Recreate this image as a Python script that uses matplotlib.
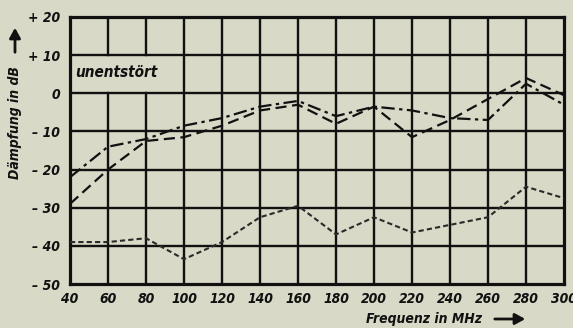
import matplotlib
matplotlib.use("Agg")
import matplotlib.pyplot as plt

# Frequency axis (MHz) and attenuation curves (dB)
freq = [40, 60, 80, 100, 120, 140, 160, 180, 200, 220, 240, 260, 280, 300]
curve_dashdot = [-22, -14, -12, -8.5, -6.5, -3.5, -2, -6, -3.5, -4.5, -6.5, -7, 2.5, -3]
curve_dashed = [-29, -20, -12.5, -11.5, -8.5, -4.5, -3, -8, -3.5, -11.5, -7, -1.5, 4, -0.5]
curve_lower = [-39, -39, -38, -43.5, -39, -32.5, -29.5, -37, -32.5, -36.5, -34.5, -32.5, -24.5, -27.5]

x_ticks = [40, 60, 80, 100, 120, 140, 160, 180, 200, 220, 240, 260, 280, 300]
y_ticks = [20, 10, 0, -10, -20, -30, -40, -50]
y_tick_labels = ["+ 20", "+ 10", "0", "– 10", "– 20", "– 30", "– 40", "– 50"]

paper = "#d8d9c6"
ink = "#111111"
font = {"family": ["DejaVu Sans Condensed", "DejaVu Sans"], "stretch": "condensed",
        "weight": "bold", "style": "italic"}

fig = plt.figure(figsize=(5.73, 3.28), dpi=100, facecolor=paper)
ax = fig.add_axes([70 / 573, 1 - 284 / 328, 494 / 573, 267 / 328])
ax.set_facecolor(paper)
ax.set_xlim(40, 300)
ax.set_ylim(-50, 20)

# grid, with the cell behind the label left open
for xv in x_ticks[1:-1]:
    if xv in (60, 80):
        ax.axvline(xv, ymin=0, ymax=50 / 70, color=ink, lw=1.7, zorder=1)
        ax.axvline(xv, ymin=60 / 70, ymax=1, color=ink, lw=1.7, zorder=1)
    else:
        ax.axvline(xv, color=ink, lw=1.7, zorder=1)
for yv in y_ticks[1:-1]:
    ax.axhline(yv, color=ink, lw=1.7, zorder=1)

for s in ax.spines.values():
    s.set_linewidth(2.3)
    s.set_color(ink)

ax.plot(freq, curve_dashdot, color=ink, lw=1.6, ls=(0, (6, 2, 1.5, 2)), zorder=3)
ax.plot(freq, curve_dashed, color=ink, lw=1.6, ls=(0, (5, 2.5)), zorder=3)
ax.plot(freq, curve_lower, color="#2a2a2a", lw=1.5, ls=(0, (2.5, 1.5)), zorder=3)

ax.set_xticks(x_ticks)
ax.set_xticklabels([str(v) for v in x_ticks], fontdict=dict(font, size=10))
ax.set_yticks(y_ticks)
ax.set_yticklabels(y_tick_labels, fontdict=dict(font, size=10))
ax.tick_params(axis="both", length=0, colors=ink)
ax.tick_params(axis="y", pad=7)
ax.tick_params(axis="x", pad=6)

ax.text(42.5, 5.5, "unentstört", fontdict=dict(font, size=11), ha="left", va="center", color=ink)

# axis titles with arrows
fig.text(15 / 573, 1 - 123 / 328, "Dämpfung in dB", rotation=90, ha="center", va="center",
         color=ink, fontdict=dict(font, size=10))
fig.add_artist(matplotlib.patches.FancyArrowPatch(
    (15 / 573, 1 - 55 / 328), (15 / 573, 1 - 25 / 328), transform=fig.transFigure,
    arrowstyle="-|>,head_length=4,head_width=2.2", lw=2, color=ink, mutation_scale=1.5))
fig.text(366 / 573, 1 - 319 / 328, "Frequenz in MHz", ha="left", va="center",
         color=ink, fontdict=dict(font, size=10))
fig.add_artist(matplotlib.patches.FancyArrowPatch(
    (492 / 573, 1 - 319 / 328), (528 / 573, 1 - 319 / 328), transform=fig.transFigure,
    arrowstyle="-|>,head_length=4,head_width=2.2", lw=2, color=ink, mutation_scale=1.5))

fig.savefig("out.png", dpi=100, facecolor=paper)
